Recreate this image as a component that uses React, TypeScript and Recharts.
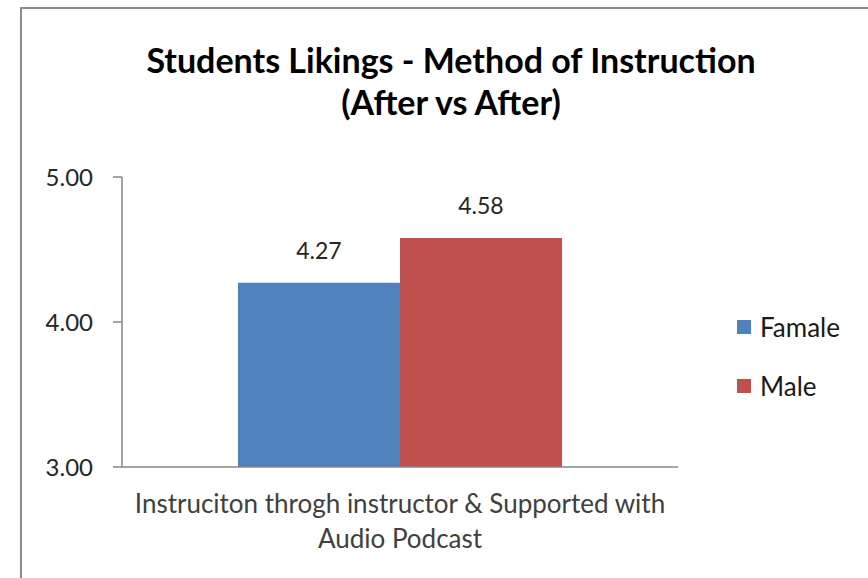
import { BarChart, Bar, XAxis, YAxis, Legend, LabelList } from "recharts";

const categories = ["Instruciton throgh instructor & Supported with\nAudio Podcast"];
const femaleValues = [4.27];
const maleValues = [4.58];
const yTicks = [3, 4, 5];
const seriesNames = ["Famale", "Male"];
const seriesColors = ["#4F81BD", "#C0504D"];

const data = categories.map((c, i) => ({
    name: c,
    female: femaleValues[i],
    male: maleValues[i],
}));

const FONT = "Lato, 'Liberation Sans', sans-serif";

function CategoryTick(props: any) {
    const { x, y, payload } = props;
    const lines = String(payload.value).split("\n");
    return (
        <g transform={`translate(${x},${y})`}>
            <text textAnchor="middle" fill="#404040" fontSize={26} fontFamily={FONT}>
                {lines.map((l, i) => (
                    <tspan key={i} x={0} dy={i === 0 ? 38 : 35}>{l}</tspan>
                ))}
            </text>
        </g>
    );
}

function LegendBox(props: any) {
    const { payload } = props;
    return (
        <div style={{ fontFamily: FONT }}>
            {payload.map((p: any, i: number) => (
                <div key={i} style={{ display: "flex", alignItems: "center", height: 59 }}>
                    <span style={{ width: 14, height: 14, background: p.color, display: "inline-block", marginRight: 9 }} />
                    <span style={{ fontSize: 26, color: "#1a1a1a" }}>{p.value}</span>
                </div>
            ))}
        </div>
    );
}

export default function App() {
    return (
        <div style={{ position: "absolute", left: 0, top: 0, width: 868, height: 578, background: "#fff", overflow: "hidden" }}>
            <div style={{ position: "absolute", left: 20, top: 7, width: 900, height: 700, borderLeft: "2px solid #8c8c8c", borderTop: "2px solid #8c8c8c" }} />
            <div style={{ position: "absolute", left: 0, top: 39, width: 902, textAlign: "center", fontFamily: FONT, fontWeight: 700, fontSize: 34, lineHeight: "42px", color: "#000" }}>
                Students Likings - Method of Instruction<br />(After vs After)
            </div>
            <BarChart width={868} height={578} data={data} margin={{ top: 177, right: 60, bottom: 0, left: 0 }} barCategoryGap={116} barGap={0}>
                <XAxis dataKey="name" height={111} tickLine={false} axisLine={{ stroke: "#868686", strokeWidth: 1.5 }} tick={<CategoryTick />} interval={0} />
                <YAxis domain={[3, 5]} ticks={yTicks} interval={0} width={122} tickSize={9} tickMargin={20}
                    tickFormatter={(v: number) => v.toFixed(2)}
                    tick={{ fontSize: 24, fill: "#262626", fontFamily: FONT }}
                    tickLine={{ stroke: "#868686", strokeWidth: 1.5 }} axisLine={{ stroke: "#868686", strokeWidth: 1.5 }} />
                <Legend layout="vertical" verticalAlign="top" align="right" content={<LegendBox />}
                    wrapperStyle={{ left: 737, top: 297, width: 130 }} />
                <Bar dataKey="female" name={seriesNames[0]} fill={seriesColors[0]} isAnimationActive={false}>
                    <LabelList dataKey="female" position="top" offset={24} formatter={(v: any) => Number(v).toFixed(2)}
                        style={{ fontSize: 23, fill: "#262626", fontFamily: FONT }} />
                </Bar>
                <Bar dataKey="male" name={seriesNames[1]} fill={seriesColors[1]} isAnimationActive={false}>
                    <LabelList dataKey="male" position="top" offset={24} formatter={(v: any) => Number(v).toFixed(2)}
                        style={{ fontSize: 23, fill: "#262626", fontFamily: FONT }} />
                </Bar>
            </BarChart>
        </div>
    );
}
